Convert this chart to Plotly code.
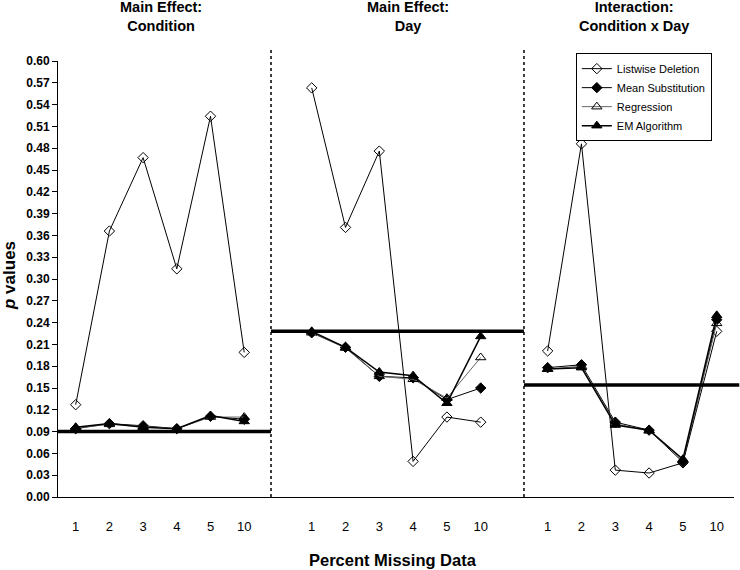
import plotly.graph_objects as go

categories = ["1", "2", "3", "4", "5", "10"]

listwise_condition = [0.127, 0.366, 0.467, 0.314, 0.524, 0.199]
mean_condition = [0.094, 0.101, 0.098, 0.094, 0.111, 0.107]
regression_condition = [0.095, 0.100, 0.097, 0.094, 0.110, 0.110]
em_condition = [0.096, 0.101, 0.096, 0.094, 0.112, 0.104]

listwise_day = [0.563, 0.371, 0.476, 0.049, 0.110, 0.103]
mean_day = [0.226, 0.206, 0.166, 0.164, 0.134, 0.150]
regression_day = [0.226, 0.205, 0.166, 0.162, 0.136, 0.192]
em_day = [0.228, 0.206, 0.172, 0.167, 0.129, 0.221]

listwise_inter = [0.201, 0.486, 0.037, 0.033, 0.047, 0.228]
mean_inter = [0.178, 0.182, 0.103, 0.092, 0.048, 0.244]
regression_inter = [0.176, 0.180, 0.101, 0.091, 0.051, 0.239]
em_inter = [0.176, 0.178, 0.099, 0.092, 0.052, 0.250]

critical_values = [0.090, 0.228, 0.154]
panel_titles = ["Main Effect:<br>Condition", "Main Effect:<br>Day", "Interaction:<br>Condition x Day"]
series_names = ["Listwise Deletion", "Mean Substitution", "Regression", "EM Algorithm"]

FONT = "Liberation Sans, Arial, sans-serif"

styles = [
    dict(symbol="diamond-open", size=8, lc="black", lw=1),
    dict(symbol="diamond", size=8, lc="black", lw=1),
    dict(symbol="triangle-up-open", size=9, lc="#666666", lw=1),
    dict(symbol="triangle-up", size=9, lc="black", lw=1.5),
]

panels = [
    ("x", [listwise_condition, mean_condition, regression_condition, em_condition]),
    ("x2", [listwise_day, mean_day, regression_day, em_day]),
    ("x3", [listwise_inter, mean_inter, regression_inter, em_inter]),
]

fig = go.Figure()
for p, (xa, series) in enumerate(panels):
    for s, (name, vals, st) in enumerate(zip(series_names, series, styles)):
        fig.add_trace(go.Scatter(
            x=categories, y=vals, xaxis=xa, yaxis="y",
            mode="lines+markers", name=name, legendgroup=name,
            showlegend=(p == 0),
            line=dict(color=st["lc"], width=st["lw"]),
            marker=dict(symbol=st["symbol"], size=st["size"], color="black",
                        line=dict(color="black", width=1)),
        ))

xcommon = dict(type="category", showgrid=False, zeroline=False, showline=True,
               linecolor="black", linewidth=1, ticks="", ticklabelstandoff=17,
               tickfont=dict(family=FONT, size=13, color="black"), anchor="y",
               fixedrange=True)

fig.update_layout(
    width=740, height=570, autosize=False,
    margin=dict(l=58, r=6, t=61, b=73),
    paper_bgcolor="white", plot_bgcolor="white",
    font=dict(family=FONT, color="black"),
    xaxis=dict(domain=[0, 0.3151], range=[-0.525, 5.795], **xcommon),
    xaxis2=dict(domain=[0.3151, 0.6893], range=[-1.204, 6.28], **xcommon),
    xaxis3=dict(domain=[0.6893, 1.0], range=[-0.70, 5.51], **xcommon),
    yaxis=dict(range=[0, 0.6], tick0=0, dtick=0.03, tickformat=".2f",
               showgrid=False, zeroline=False, showline=True, linecolor="black",
               linewidth=1, ticks="outside", ticklen=5, tickcolor="black",
               fixedrange=True,
               tickfont=dict(family=FONT, size=12, color="black", weight="bold")),
    legend=dict(x=0.766, y=1.018, xanchor="left", yanchor="top",
                bordercolor="black", borderwidth=1, bgcolor="white",
                font=dict(family=FONT, size=11, color="black"),
                tracegroupgap=0),
    showlegend=True,
)

shapes = []
for i, xa in enumerate(["x", "x2", "x3"]):
    shapes.append(dict(type="line", xref=f"{xa} domain", yref="y",
                       x0=0, x1=1.025 if i == 2 else 1,
                       y0=critical_values[i], y1=critical_values[i],
                       line=dict(color="black", width=3.5)))
for xa in ["x2", "x3"]:
    shapes.append(dict(type="line", xref=f"{xa} domain", yref="paper",
                       x0=0, x1=0, y0=0, y1=1.0275,
                       line=dict(color="black", width=1.5, dash="dot")))
fig.update_layout(shapes=shapes)

title_centers = [160.5, 408, 634]
annotations = []
for t, cx in zip(panel_titles, title_centers):
    annotations.append(dict(text=t, xref="paper", yref="paper",
                            x=(cx - 58) / 676, y=(497 - 16) / 436,
                            xanchor="center", yanchor="middle", showarrow=False,
                            font=dict(family=FONT, size=14.5, color="black", weight="bold")))
annotations.append(dict(text="Percent Missing Data", xref="paper", yref="paper",
                        x=(393 - 58) / 676, y=(497 - 560) / 436,
                        xanchor="center", yanchor="middle", showarrow=False,
                        font=dict(family=FONT, size=16.5, color="black", weight="bold")))
annotations.append(dict(text="<i>p</i> values", xref="paper", yref="paper",
                        x=(9 - 58) / 676, y=(497 - 276) / 436, textangle=-90,
                        xanchor="center", yanchor="middle", showarrow=False,
                        font=dict(family=FONT, size=17, color="black", weight="bold")))
fig.update_layout(annotations=annotations)

fig.write_html("out.html", config={"displayModeBar": False, "staticPlot": False},
               post_script="document.body.style.margin='0';")
